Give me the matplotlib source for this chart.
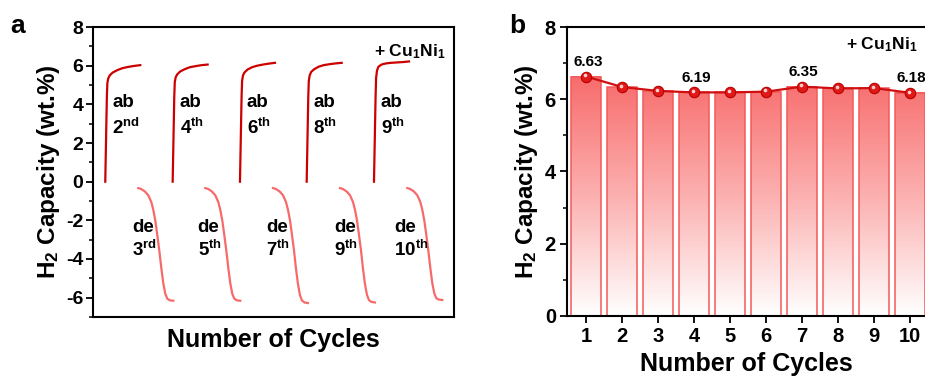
import numpy as np
import matplotlib
matplotlib.use("Agg")
import matplotlib.pyplot as plt
import matplotlib.transforms as mtransforms
from matplotlib.colors import LinearSegmentedColormap

plt.rcParams['font.family'] = ['Liberation Sans', 'DejaVu Sans']
plt.rcParams['font.weight'] = 'bold'
plt.rcParams['axes.labelweight'] = 'bold'
plt.rcParams['axes.unicode_minus'] = False
plt.rcParams['mathtext.fontset'] = 'custom'
plt.rcParams['mathtext.rm'] = 'Liberation Sans:bold'
plt.rcParams['mathtext.bf'] = 'Liberation Sans:bold'
plt.rcParams['mathtext.it'] = 'Liberation Sans:bold'

# ---- panel a: absorption / desorption curves (time in arbitrary units) ----
ab_start = [12.3, 79.7, 147.0, 213.7, 281.0]
de_start = [45.3, 112.3, 180.0, 247.0, 314.3]
ab_names = ['2', '4', '6', '8', '9']
ab_sups = ['nd', 'th', 'th', 'th', 'th']
de_names = ['3', '5', '7', '9', '10']
de_sups = ['rd', 'th', 'th', 'th', 'th']

ab_t = [0, 0.4, 0.8, 1.2, 1.6, 2.1, 3.0, 4.5, 7.5, 12, 17, 23, 29, 35]
ab_cap = [
    [0, 1.1, 2.2, 3.3, 4.4, 5.10, 5.35, 5.50, 5.65, 5.77, 5.87, 5.94, 5.99, 6.03],
    [0, 1.1, 2.2, 3.3, 4.4, 5.15, 5.40, 5.55, 5.70, 5.82, 5.92, 5.98, 6.03, 6.06],
    [0, 1.1, 2.2, 3.3, 4.4, 5.20, 5.50, 5.65, 5.80, 5.92, 6.00, 6.06, 6.11, 6.15],
    [0, 1.1, 2.2, 3.3, 4.4, 5.20, 5.50, 5.68, 5.82, 5.95, 6.03, 6.08, 6.12, 6.15],
    [0, 1.1, 2.2, 3.3, 4.4, 5.35, 5.75, 5.95, 6.06, 6.12, 6.15, 6.17, 6.19, 6.22],
]

de_t = [0, 3, 6.5, 10, 13, 15, 17, 19, 21, 23, 25, 27, 29, 31.5, 35]
de_cap = [
    [-0.33, -0.38, -0.50, -0.70, -1.05, -1.45, -2.00, -2.75, -3.55, -4.45, -5.25, -5.80, -6.05, -6.14, -6.16],
    [-0.33, -0.38, -0.50, -0.70, -1.05, -1.45, -2.00, -2.75, -3.55, -4.45, -5.25, -5.80, -6.05, -6.14, -6.16],
    [-0.33, -0.38, -0.50, -0.70, -1.05, -1.45, -2.00, -2.75, -3.55, -4.50, -5.30, -5.88, -6.15, -6.25, -6.28],
    [-0.33, -0.38, -0.50, -0.70, -1.05, -1.45, -2.00, -2.75, -3.55, -4.50, -5.30, -5.86, -6.13, -6.22, -6.25],
    [-0.33, -0.38, -0.50, -0.70, -1.05, -1.45, -2.00, -2.75, -3.55, -4.45, -5.25, -5.78, -6.03, -6.10, -6.12],
]

# ---- panel b: capacity per cycle ----
cycles = [1, 2, 3, 4, 5, 6, 7, 8, 9, 10]
capacity = [6.63, 6.34, 6.23, 6.19, 6.19, 6.21, 6.35, 6.30, 6.31, 6.18]
labelled = [1, 4, 7, 10]

ab_color = '#cc0000'
de_color = '#f86a6a'

fig = plt.figure(figsize=(9.25, 3.76), dpi=100)

# ================= panel a =================
ax = fig.add_axes([0.1005, 0.157, 0.3903, 0.771])
for k in range(5):
    ax.plot(np.array(ab_t) + ab_start[k], ab_cap[k], color=ab_color, lw=1.6)
    ax.plot(np.array(de_t) + de_start[k], de_cap[k], color=de_color, lw=1.6)

ab_text_x = [19.3, 87.0, 153.7, 220.3, 288.0]
de_text_x = [39.0, 104.7, 173.0, 241.0, 301.0]
for k in range(5):
    ax.text(ab_text_x[k], 4.09, 'ab', fontsize=13.5, ha='left', va='center')
    ax.text(ab_text_x[k], 2.8, r'$\mathbf{%s^{%s}}$' % (ab_names[k], ab_sups[k]),
            fontsize=13.5, ha='left', va='center')
    ax.text(de_text_x[k], -2.39, 'de', fontsize=13.5, ha='left', va='center')
    ax.text(de_text_x[k], -3.55, r'$\mathbf{%s^{%s}}$' % (de_names[k], de_sups[k]),
            fontsize=13.5, ha='left', va='center')

ax.text(0.975, 0.915, r'+ $\mathbf{Cu_1Ni_1}$', transform=ax.transAxes,
        fontsize=12.5, ha='right', va='center')

ax.set_xlim(0, 361)
ax.set_ylim(-7, 8)
ax.set_xticks([])
ax.set_yticks(range(-6, 9, 2))
ax.set_yticks(range(-7, 8, 2), minor=True)
ax.tick_params(axis='y', which='major', direction='out', length=5, width=1.3, labelsize=14, pad=2)
ax.tick_params(axis='y', which='minor', direction='out', length=3, width=1.1)
for s in ax.spines.values():
    s.set_linewidth(1.5)
ax.set_xlabel('Number of Cycles', fontsize=18, labelpad=8)
ax.set_ylabel(r'$\mathbf{H_2}$ Capacity (wt.%)', fontsize=17.5, labelpad=3)
fig.text(0.011, 0.93, 'a', fontsize=19, fontweight='bold', va='center')

# ================= panel b =================
bx = fig.add_axes([0.613, 0.16, 0.387, 0.768])
cmap = LinearSegmentedColormap.from_list('redfade', ['#ffffff', '#fcb0b0', '#f86c6c'])
width = 0.83
for c, v in zip(cycles, capacity):
    grad = np.linspace(0, v, 200).reshape(-1, 1)
    bx.imshow(grad, cmap=cmap, vmin=0, vmax=6.65, origin='lower', aspect='auto',
              extent=[c - width / 2, c + width / 2, 0, v], zorder=1)
bx.bar(cycles, capacity, width=width, fill=False, edgecolor='#f25a5a', lw=1.1, zorder=2)

bx.plot(cycles, capacity, color='#d01010', lw=1.6, zorder=3)
bx.plot(cycles, capacity, 'o', ms=7.5, mfc='#e01818', mec='#b80000', mew=0.8, zorder=4)
shine = mtransforms.offset_copy(bx.transData, fig=fig, x=-1.0, y=1.2, units='dots')
bx.plot(cycles, capacity, 'o', ms=2.6, mfc='#ffd0d0', mec='none', transform=shine, zorder=5)

for c, v in zip(cycles, capacity):
    if c in labelled:
        bx.text(c + 0.05, v + 0.4, '%.2f' % v, fontsize=11, ha='center', va='center')

bx.text(10.22, 7.5, r'+ $\mathbf{Cu_1Ni_1}$', fontsize=12.5, ha='right', va='center')

bx.set_xlim(0.47, 10.42)
bx.set_ylim(0, 8)
bx.set_xticks(cycles)
bx.set_yticks(range(0, 9, 2))
bx.set_yticks(range(1, 8, 2), minor=True)
bx.tick_params(axis='both', which='major', direction='out', length=5, width=1.3, labelsize=14.5, pad=3)
bx.tick_params(axis='y', which='minor', direction='out', length=3, width=1.1)
bx.spines['right'].set_visible(False)
for s in ['left', 'top', 'bottom']:
    bx.spines[s].set_linewidth(1.5)
bx.set_xlabel('Number of Cycles', fontsize=18, labelpad=4)
bx.set_ylabel(r'$\mathbf{H_2}$ Capacity (wt.%)', fontsize=17.5, labelpad=3)
fig.text(0.551, 0.93, 'b', fontsize=19, fontweight='bold', va='center')

fig.savefig('out.png', dpi=100)
